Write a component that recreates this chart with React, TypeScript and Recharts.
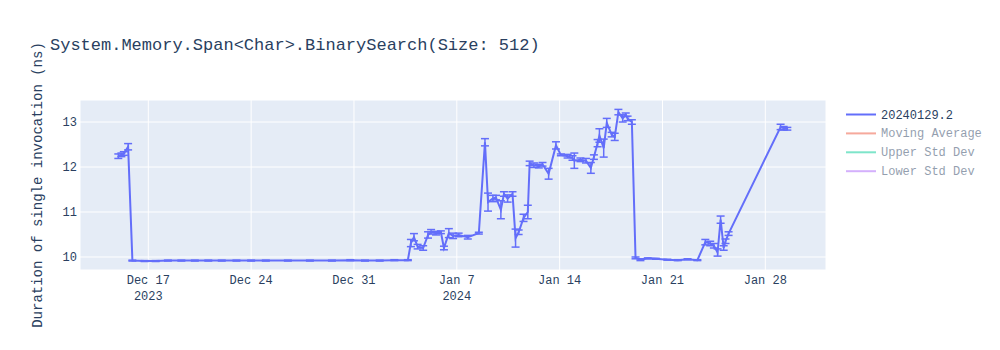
import { CartesianGrid, ErrorBar, Line, LineChart, XAxis, YAxis } from "recharts";

// run timestamps (UTC), mean duration (ns) and std error for each run
const runDates = [
  "2023-12-14T23:00", "2023-12-15T04:00", "2023-12-15T08:00", "2023-12-15T15:00", "2023-12-15T22:00",
  "2023-12-16T18:00", "2023-12-17T12:00", "2023-12-18T08:00", "2023-12-19T06:00", "2023-12-20T04:00",
  "2023-12-21T02:00", "2023-12-22T00:00", "2023-12-23T00:00", "2023-12-24T00:00", "2023-12-25T00:00",
  "2023-12-26T12:00", "2023-12-28T00:00", "2023-12-29T12:00", "2023-12-30T18:00", "2023-12-31T18:00",
  "2024-01-01T18:00", "2024-01-02T18:00", "2024-01-03T16:00", "2024-01-03T21:00", "2024-01-04T02:00",
  "2024-01-04T08:00", "2024-01-04T17:00", "2024-01-05T01:00", "2024-01-05T06:00", "2024-01-05T14:00",
  "2024-01-05T22:00", "2024-01-06T03:00", "2024-01-06T11:00", "2024-01-06T18:00", "2024-01-07T03:00",
  "2024-01-07T18:00", "2024-01-08T12:00", "2024-01-08T22:00", "2024-01-09T03:00", "2024-01-09T11:00",
  "2024-01-09T16:00", "2024-01-10T00:00", "2024-01-10T05:00", "2024-01-10T11:00", "2024-01-10T19:00",
  "2024-01-11T00:00", "2024-01-11T05:00", "2024-01-11T13:00", "2024-01-11T20:00", "2024-01-11T23:00",
  "2024-01-12T06:00", "2024-01-12T14:00", "2024-01-12T20:00", "2024-01-13T06:00", "2024-01-13T18:00",
  "2024-01-14T02:00", "2024-01-14T13:00", "2024-01-14T21:00", "2024-01-15T00:00", "2024-01-15T10:00",
  "2024-01-15T19:00", "2024-01-16T03:00", "2024-01-16T08:00", "2024-01-16T14:00", "2024-01-16T17:00",
  "2024-01-17T00:00", "2024-01-17T05:00", "2024-01-17T13:00", "2024-01-17T18:00", "2024-01-18T00:00",
  "2024-01-18T07:00", "2024-01-18T12:00", "2024-01-18T15:00", "2024-01-18T22:00", "2024-01-19T04:00",
  "2024-01-19T12:00", "2024-01-20T00:00", "2024-01-20T13:00", "2024-01-21T08:00", "2024-01-22T01:00",
  "2024-01-22T17:00", "2024-01-23T09:00", "2024-01-23T22:00", "2024-01-24T06:00", "2024-01-24T12:00",
  "2024-01-24T18:00", "2024-01-24T23:00", "2024-01-25T04:00", "2024-01-25T07:00", "2024-01-25T12:00",
  "2024-01-29T01:00", "2024-01-29T06:00", "2024-01-29T12:00",
];

const durations = [
  12.24, 12.27, 12.3, 12.45, 9.92,
  9.91, 9.91, 9.92, 9.92, 9.92,
  9.92, 9.92, 9.92, 9.92, 9.92,
  9.92, 9.92, 9.92, 9.93, 9.92,
  9.92, 9.93, 9.93, 10.31, 10.44,
  10.23, 10.2, 10.49, 10.56, 10.53,
  10.55, 10.2, 10.53, 10.47, 10.49,
  10.44, 10.53, 12.55, 11.22, 11.3,
  11.32, 11.05, 11.4, 11.3, 11.4,
  10.42, 10.55, 10.87, 11.0, 12.08,
  12.04, 12.02, 12.06, 11.85, 12.48,
  12.27, 12.24, 12.2, 12.14, 12.16,
  12.14, 11.98, 12.22, 12.53, 12.7,
  12.42, 12.98, 12.72, 12.67, 13.22,
  13.08, 13.16, 13.08, 13.0, 9.98,
  9.94, 9.97, 9.96, 9.94, 9.93,
  9.95, 9.93, 10.33, 10.3, 10.25,
  10.1, 10.83, 10.2, 10.35, 10.52,
  12.89, 12.86, 12.85,
];

const stdErrors = [
  0.05, 0.04, 0.04, 0.07, 0.01,
  0.01, 0.01, 0.01, 0.01, 0.01,
  0.01, 0.01, 0.01, 0.01, 0.01,
  0.01, 0.01, 0.01, 0.01, 0.01,
  0.01, 0.01, 0.01, 0.08, 0.08,
  0.05, 0.05, 0.07, 0.05, 0.04,
  0.03, 0.04, 0.1, 0.06, 0.04,
  0.04, 0.02, 0.08, 0.2, 0.07,
  0.05, 0.2, 0.05, 0.08, 0.05,
  0.2, 0.05, 0.08, 0.15, 0.05,
  0.05, 0.04, 0.04, 0.12, 0.08,
  0.02, 0.04, 0.05, 0.17, 0.04,
  0.05, 0.12, 0.05, 0.08, 0.15,
  0.2, 0.1, 0.05, 0.08, 0.06,
  0.08, 0.04, 0.05, 0.05, 0.02,
  0.02, 0.01, 0.01, 0.01, 0.01,
  0.01, 0.01, 0.06, 0.05, 0.05,
  0.08, 0.08, 0.05, 0.05, 0.04,
  0.06, 0.04, 0.03,
];

const xTickDates = ["2023-12-17", "2023-12-24", "2023-12-31", "2024-01-07", "2024-01-14", "2024-01-21", "2024-01-28"];
const xTickLabels = ["Dec 17", "Dec 24", "Dec 31", "Jan 7", "Jan 14", "Jan 21", "Jan 28"];
const xTickYears = ["2023", "", "", "2024", "", "", ""];
const xRange = ["2023-12-12T08:24", "2024-02-01T03:10"];
const yTicks = [10, 11, 12, 13];
const yRange = [9.711, 13.489];

const legendNames = ["20240129.2", "Moving Average", "Upper Std Dev", "Lower Std Dev"];
const legendColors = ["#636efa", "#EF553B", "#00cc96", "#ab63fa"];
const legendHidden = [false, true, true, true];

const FONT = "'Liberation Mono', 'Courier New', monospace";
const INK = "#2a3f5f";

const toMs = (s: string) => new Date(s.length <= 10 ? s + "T00:00:00Z" : s + ":00Z").getTime();

const data = runDates.map((d, i) => ({ t: toMs(d), value: durations[i], err: stdErrors[i] }));
const xTicks = xTickDates.map(toMs);

function DateTick({ x, y, payload }: any) {
  const i = xTicks.indexOf(payload.value);
  return (
    <g fontFamily={FONT} fontSize={12} fill={INK}>
      <text x={x} y={y + 13.5} textAnchor="middle">{xTickLabels[i]}</text>
      {xTickYears[i] && (
        <text x={x} y={y + 29.5} textAnchor="middle">{xTickYears[i]}</text>
      )}
    </g>
  );
}

function Overlay() {
  return (
    <svg width={1000} height={350} style={{ position: "absolute", left: 0, top: 0, pointerEvents: "none" }}>
      <text x={50} y={49.5} fontFamily={FONT} fontSize={17} fill={INK}>
        System.Memory.Span&lt;Char&gt;.BinarySearch(Size: 512)
      </text>
      {legendNames.map((name, i) => {
        const cy = 114.5 + i * 18.9;
        return (
          <g key={name} opacity={legendHidden[i] ? 0.5 : 1}>
            <line x1={846} x2={876} y1={cy} y2={cy} stroke={legendColors[i]} strokeWidth={2} />
            <text x={881} y={cy + 4} fontFamily={FONT} fontSize={12} fill={INK}>{name}</text>
          </g>
        );
      })}
    </svg>
  );
}

export default function App() {
  return (
    <div style={{ position: "absolute", left: 0, top: 0, width: 1000, height: 350, background: "#fff" }}>
      <LineChart width={1000} height={350} data={data} margin={{ top: 100, right: 174, bottom: 50, left: 0 }}>
        <CartesianGrid fill="#e5ecf6" stroke="#ffffff" strokeWidth={1} />
        <XAxis
          dataKey="t"
          type="number"
          scale="linear"
          domain={[toMs(xRange[0]), toMs(xRange[1])]}
          allowDataOverflow
          ticks={xTicks}
          interval={0}
          height={30}
          axisLine={false}
          tickLine={false}
          tickSize={0}
          tickMargin={0}
          tick={<DateTick />}
        />
        <YAxis
          type="number"
          domain={yRange}
          allowDataOverflow
          ticks={yTicks}
          interval={0}
          width={80}
          axisLine={false}
          tickLine={false}
          tickSize={0}
          tickMargin={3}
          tick={{ fill: INK, fontSize: 12, fontFamily: FONT }}
          label={{
            value: "Duration of single invocation (ns)",
            angle: -90,
            position: "insideLeft",
            offset: 37,
            style: { textAnchor: "middle", fill: INK, fontSize: 14, fontFamily: FONT },
          }}
        />
        <Line
          type="linear"
          dataKey="value"
          stroke="#636efa"
          strokeWidth={2}
          dot={false}
          isAnimationActive={false}
        >
          <ErrorBar dataKey="err" direction="y" width={4} stroke="#636efa" strokeWidth={1.5} isAnimationActive={false} />
        </Line>
      </LineChart>
      <Overlay />
    </div>
  );
}
